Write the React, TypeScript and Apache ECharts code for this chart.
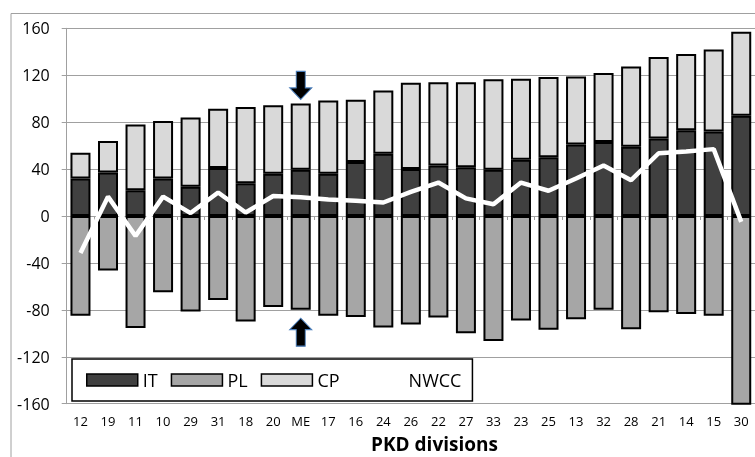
import React, { useEffect, useRef } from "react";
import * as echarts from "echarts";

const categories = ["12", "19", "11", "10", "29", "31", "18", "20", "ME", "17", "16", "24", "26", "22", "27", "33", "23", "25", "13", "32", "28", "21", "14", "15", "30"];
const itValues = [32, 37, 22, 32, 25, 41, 28, 36, 39.5, 36, 46, 53, 40, 43, 41.5, 39.5, 48, 50, 61, 63, 59, 66, 73, 72, 85.5];
const cpValues = [22, 27, 56, 49, 59, 50.5, 65, 58.5, 56.5, 62.5, 53, 54, 73.5, 71, 72.5, 77, 69, 68.5, 58, 59, 68.5, 69.5, 65, 70, 71.5];
const plValues = [-85, -46.5, -95.5, -65, -81.5, -71.5, -90, -77.5, -80, -85, -86, -95, -92.5, -86.5, -100, -106.5, -89, -97, -88, -80, -96.5, -82, -83.5, -85, -162];
const nwccValues = [-31.5, 16.5, -17, 16.5, 2.5, 20, 3, 17, 16, 14, 13, 11.5, 20.5, 28.5, 15, 10, 28.5, 21.5, 32, 43, 30.5, 53.5, 55, 57, -5];
const yTicks = { min: -160, max: 160, interval: 40 };
const arrowMarks = [
  { name: "down", category: "ME", value: 111.3 },
  { name: "up", category: "ME", value: -99 },
];

const FONT = "'Open Sans', 'DejaVu Sans', sans-serif";
const DOWN_ARROW = "path://M6.5,0 L15.5,0 L15.5,16.5 L22,16.5 L11,28 L0,16.5 L6.5,16.5 Z";
const UP_ARROW = "path://M11,0 L22,11.5 L15.5,11.5 L15.5,28 L6.5,28 L6.5,11.5 L0,11.5 Z";

export default function App() {
  const ref = useRef<HTMLDivElement>(null);
  useEffect(() => {
    if (!ref.current) return;
    const chart = echarts.init(ref.current, undefined, { renderer: "svg" });
    const grey = "#a0a0a0";
    const barStyle = (color: string) => ({ color, borderColor: "#000", borderWidth: 2 });
    chart.setOption({
      animation: false,
      textStyle: { fontFamily: FONT },
      grid: { left: 66.7, top: 28.3, width: 691.3, height: 375.4, containLabel: false },
      legend: {
        left: 72,
        top: 359,
        orient: "horizontal",
        icon: "rect",
        itemWidth: 51,
        itemHeight: 12,
        itemGap: 13,
        padding: [12, 11, 12, 14],
        backgroundColor: "#fff",
        borderColor: "#000",
        borderWidth: 1.5,
        selectedMode: false,
        textStyle: { fontSize: 18, color: "#000", fontFamily: FONT },
        itemStyle: { borderColor: "#000", borderWidth: 1.5 },
        data: [
          "IT",
          "PL",
          "CP",
          { name: "NWCC", itemStyle: { color: "#fff", borderColor: "#fff", borderWidth: 0 } },
        ],
      },
      xAxis: [
        {
          type: "category",
          data: categories,
          position: "bottom",
          axisLine: { show: false, onZero: false },
          axisTick: { show: false },
          axisLabel: { interval: 0, fontSize: 13, color: "#000", margin: 11, fontFamily: FONT },
          splitLine: { show: false },
        },
        {
          type: "category",
          data: categories,
          position: "top",
          axisLine: { show: true, onZero: true, lineStyle: { color: grey, width: 1 } },
          axisTick: { show: true, inside: true, length: 4, lineStyle: { color: grey } },
          axisLabel: { show: false },
          splitLine: { show: false },
        },
      ],
      yAxis: {
        type: "value",
        min: yTicks.min,
        max: yTicks.max,
        interval: yTicks.interval,
        axisLine: { show: true, lineStyle: { color: grey, width: 1 } },
        axisTick: { show: true, length: 5, lineStyle: { color: grey } },
        axisLabel: { fontSize: 16, color: "#000", margin: 17, fontFamily: FONT },
        splitLine: { show: true, lineStyle: { color: grey, width: 1 } },
      },
      series: [
        { name: "IT", type: "bar", stack: "total", data: itValues, barWidth: 20, itemStyle: barStyle("#404040") },
        { name: "PL", type: "bar", stack: "total", data: plValues, barWidth: 20, itemStyle: barStyle("#a6a6a6") },
        { name: "CP", type: "bar", stack: "total", data: cpValues, barWidth: 20, itemStyle: barStyle("#d9d9d9") },
        {
          name: "NWCC",
          type: "line",
          data: nwccValues,
          showSymbol: false,
          symbol: "none",
          z: 5,
          itemStyle: { color: "#fff" },
          lineStyle: { color: "#fff", width: 4.5 },
          markPoint: {
            silent: true,
            label: { show: false },
            itemStyle: { color: "#000", borderColor: "#4a7ebb", borderWidth: 1 },
            data: arrowMarks.map((m) => ({
              name: m.name,
              coord: [m.category, m.value],
              symbol: m.name === "down" ? DOWN_ARROW : UP_ARROW,
              symbolSize: [22, 28],
            })),
          },
        },
      ],
      graphic: [
        {
          type: "rect",
          silent: true,
          z: -10,
          shape: { x: 11, y: 13.5, width: 800, height: 500 },
          style: { fill: "none", stroke: "#a0a0a0", lineWidth: 1 },
        },
        {
          type: "text",
          x: 434.5,
          y: 444,
          style: {
            text: "PKD divisions",
            fill: "#000",
            font: `bold 19px ${FONT}`,
            textAlign: "center",
            textVerticalAlign: "middle",
          },
        },
      ],
    });
    return () => chart.dispose();
  }, []);
  return <div ref={ref} style={{ position: "fixed", left: 0, top: 0, width: 755, height: 457 }} />;
}
